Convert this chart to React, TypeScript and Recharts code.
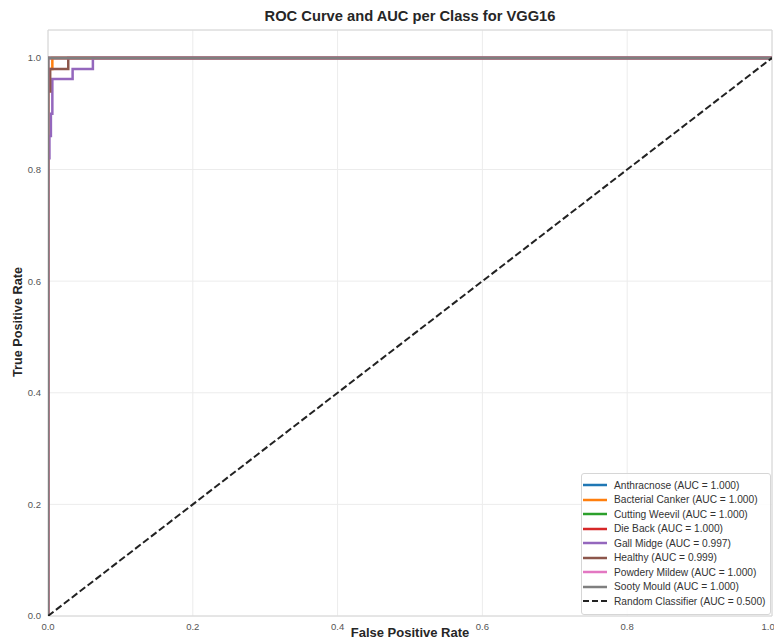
import React from "react";
import { LineChart, Line, XAxis, YAxis, CartesianGrid, ReferenceArea } from "recharts";

const classNames = [
  "Anthracnose",
  "Bacterial Canker",
  "Cutting Weevil",
  "Die Back",
  "Gall Midge",
  "Healthy",
  "Powdery Mildew",
  "Sooty Mould",
];
const aucValues = ["1.000", "1.000", "1.000", "1.000", "0.997", "0.999", "1.000", "1.000"];
const colors = ["#1f77b4", "#ff7f0e", "#2ca02c", "#d62728", "#9467bd", "#8c564b", "#e377c2", "#7f7f7f"];

const perfectFpr = [0, 0, 1];
const perfectTpr = [0, 1, 1];
const cankerFpr = [0, 0, 0.006, 0.006, 1];
const cankerTpr = [0, 0.98, 0.98, 1, 1];
const gallFpr = [0, 0, 0.002, 0.002, 0.004, 0.004, 0.006, 0.006, 0.034, 0.034, 0.062, 0.062, 1];
const gallTpr = [0, 0.82, 0.82, 0.86, 0.86, 0.9, 0.9, 0.962, 0.962, 0.98, 0.98, 1, 1];
const healthyFpr = [0, 0, 0.003, 0.003, 0.028, 0.028, 1];
const healthyTpr = [0, 0.94, 0.94, 0.98, 0.98, 1, 1];
const randomFpr = [0, 1];
const randomTpr = [0, 1];

const fprs = [perfectFpr, cankerFpr, perfectFpr, perfectFpr, gallFpr, healthyFpr, perfectFpr, perfectFpr];
const tprs = [perfectTpr, cankerTpr, perfectTpr, perfectTpr, gallTpr, healthyTpr, perfectTpr, perfectTpr];

const xTicks = [0, 0.2, 0.4, 0.6, 0.8, 1.0];
const yTicks = [0, 0.2, 0.4, 0.6, 0.8, 1.0];

const toPoints = (xs: number[], ys: number[]) => xs.map((x, i) => ({ x, y: ys[i] }));

const FONT = "Arial, 'Liberation Sans', Helvetica, sans-serif";

function Handle({ color, dashed }: { color: string; dashed?: boolean }) {
  return (
    <svg width={24} height={6} style={{ marginLeft: 1, marginRight: 7, display: "block" }}>
      <line
        x1={0}
        x2={24}
        y1={3}
        y2={3}
        stroke={color}
        strokeWidth={dashed ? 2 : 2.5}
        strokeDasharray={dashed ? "6 3" : undefined}
      />
    </svg>
  );
}

export default function App() {
  const W = 774;
  const H = 644;
  return (
    <div style={{ position: "absolute", left: 0, top: 0, width: W, height: H, background: "#fff", fontFamily: FONT }}>
      <LineChart width={W} height={H} margin={{ top: 30, right: 2, bottom: 0, left: 0 }}>
        <CartesianGrid stroke="#ececec" strokeWidth={1} />
        <ReferenceArea x1={0} x2={1} y1={0} y2={1.05} fill="none" stroke="#d6d6d6" strokeWidth={1} ifOverflow="visible" />
        <XAxis
          dataKey="x"
          type="number"
          domain={[0, 1]}
          ticks={xTicks}
          tickFormatter={(v: number) => v.toFixed(1)}
          allowDataOverflow
          axisLine={false}
          tickLine={false}
          tickSize={0}
          tickMargin={7}
          height={28}
          tick={{ fontSize: 9.5, fill: "#555", fontFamily: FONT }}
        />
        <YAxis
          dataKey="y"
          type="number"
          domain={[0, 1.05]}
          ticks={yTicks}
          tickFormatter={(v: number) => v.toFixed(1)}
          allowDataOverflow
          axisLine={false}
          tickLine={false}
          tickSize={0}
          tickMargin={7}
          width={48}
          tick={{ fontSize: 9.5, fill: "#555", fontFamily: FONT }}
        />
        {classNames.map((name, i) => (
          <Line
            key={name}
            data={toPoints(fprs[i], tprs[i])}
            dataKey="y"
            type="linear"
            stroke={colors[i]}
            strokeWidth={2.5}
            dot={false}
            activeDot={false}
            isAnimationActive={false}
            name={name}
          />
        ))}
        <Line
          data={toPoints(randomFpr, randomTpr)}
          dataKey="y"
          type="linear"
          stroke="#222"
          strokeWidth={2}
          strokeDasharray="7 3"
          dot={false}
          activeDot={false}
          isAnimationActive={false}
          name="Random Classifier"
        />
      </LineChart>

      <div style={{ position: "absolute", left: 48, width: 724, top: 8, textAlign: "center", fontSize: 14.7, fontWeight: "bold", color: "#262626" }}>
        ROC Curve and AUC per Class for VGG16
      </div>
      <div style={{ position: "absolute", left: 48, width: 724, top: 625, textAlign: "center", fontSize: 13, fontWeight: "bold", color: "#262626" }}>
        False Positive Rate
      </div>
      <div
        style={{
          position: "absolute",
          left: 18,
          top: 322,
          transform: "translate(-50%, -50%) rotate(-90deg)",
          whiteSpace: "nowrap",
          fontSize: 12.7,
          fontWeight: "bold",
          color: "#262626",
        }}
      >
        True Positive Rate
      </div>

      <div
        style={{
          position: "absolute",
          left: 581,
          top: 473,
          width: 190,
          height: 142,
          border: "1px solid #d6d6d6",
          borderRadius: 3,
          background: "rgba(255,255,255,0.85)",
          boxSizing: "border-box",
          paddingTop: 4,
        }}
      >
        {classNames.map((name, i) => (
          <div key={name} style={{ display: "flex", alignItems: "center", height: 14.5 }}>
            <Handle color={colors[i]} />
            <span style={{ fontSize: 10.2, color: "#333", whiteSpace: "nowrap" }}>{`${name} (AUC = ${aucValues[i]})`}</span>
          </div>
        ))}
        <div style={{ display: "flex", alignItems: "center", height: 14.5 }}>
          <Handle color="#222" dashed />
          <span style={{ fontSize: 10.2, color: "#333", whiteSpace: "nowrap" }}>Random Classifier (AUC = 0.500)</span>
        </div>
      </div>
    </div>
  );
}
